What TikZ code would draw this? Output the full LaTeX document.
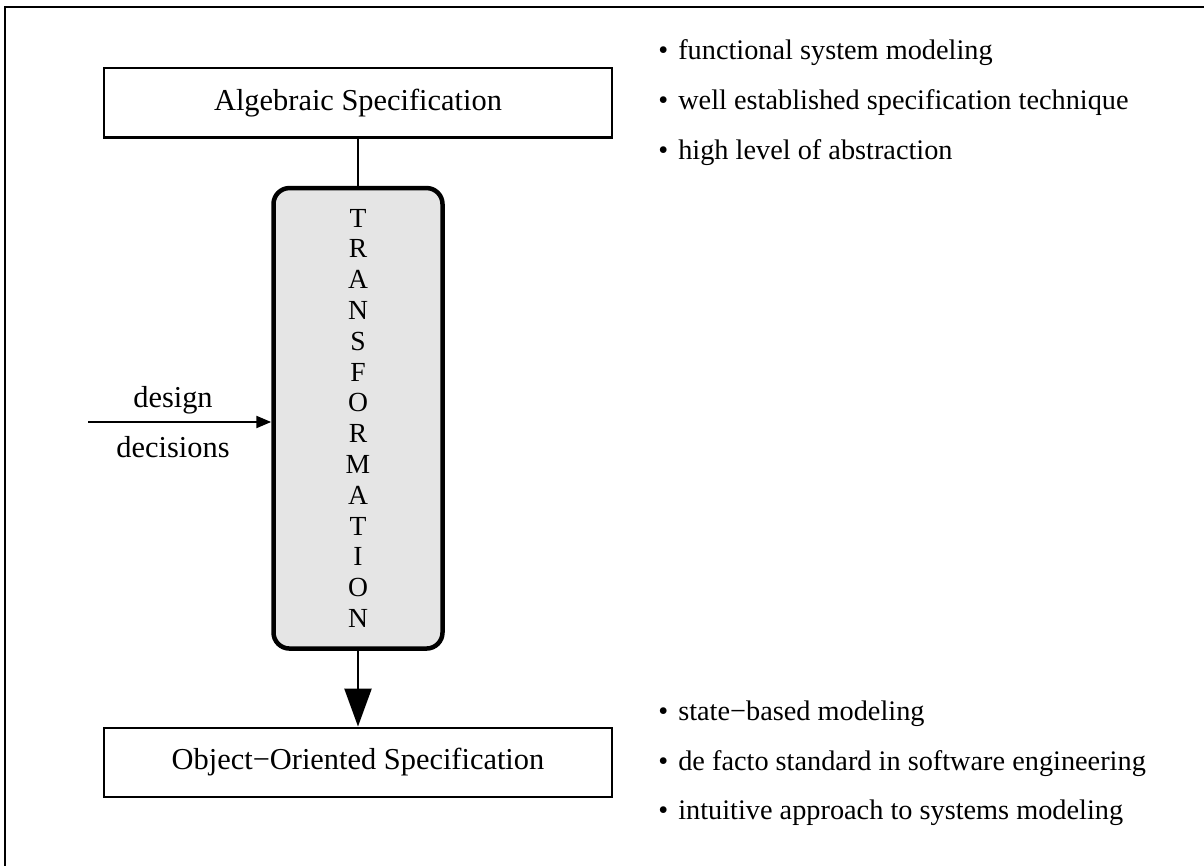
\documentclass[tikz,border=0pt]{standalone}
\usepackage{fontspec}
\setmainfont{Liberation Serif}
\usetikzlibrary{arrows.meta}
\newcommand{\itembul}{\textbullet\hspace{5pt}}

\begin{document}
\begin{tikzpicture}[
    x=0.5pt, y=-0.5pt,
    spec/.style={rectangle, draw, line width=1.2pt, text centered, minimum width=254pt, minimum height=34.75pt, inner sep=0pt, font=\fontsize{15.2}{18}\selectfont},
    transbox/.style={rectangle, draw, line width=2.25pt, rounded corners=8pt, fill=black!10, align=center, minimum width=84.5pt, minimum height=230.25pt, inner sep=0pt, font=\fontsize{13.8}{15.4}\selectfont},
    point/.style={anchor=base west, inner sep=0pt, font=\fontsize{14.15}{17}\selectfont},
    note/.style={anchor=base, inner sep=0pt, font=\fontsize{15.2}{18}\selectfont},
    arrow/.style={-{Triangle[length=7.5pt,width=6pt]}, line width=1.2pt},
    bigarrow/.style={-{Triangle[length=19pt,width=13.5pt]}, line width=1.2pt}
]
\useasboundingbox (0,0) rectangle (1204,866);

% Frame
\draw[line width=1.35pt] (5,866) -- (5,7) -- (1204,7);

% Specifications
\node[spec] (alg) at (358,102.75) {Algebraic Specification};
\node[spec] (oo) at (358,762.5) {Object−Oriented Specification};

% Transformation
\node[transbox] (trans) at (358,418.3) {T\\R\\A\\N\\S\\F\\O\\R\\M\\A\\T\\I\\O\\N};

% Flow
\draw[line width=1.2pt] (alg) -- (trans);
\draw[bigarrow] (trans) -- (oo);

% Design decisions
\coordinate (dd) at (88,422);
\draw[arrow] (dd) -- (dd -| trans.west);
\node[note] (design) at (173,407) {design};
\node[note] (decisions) at (173,457) {decisions};

% Properties
\node[point] (alg1) at (658,60) {\itembul functional system modeling};
\node[point] (alg2) at (658,110) {\itembul well established specification technique};
\node[point] (alg3) at (658,160) {\itembul high level of abstraction};
\node[point] (oo1) at (658,720) {\itembul state−based modeling};
\node[point] (oo2) at (658,770) {\itembul de facto standard in software engineering};
\node[point] (oo3) at (658,819) {\itembul intuitive approach to systems modeling};

\end{tikzpicture}
\end{document}
